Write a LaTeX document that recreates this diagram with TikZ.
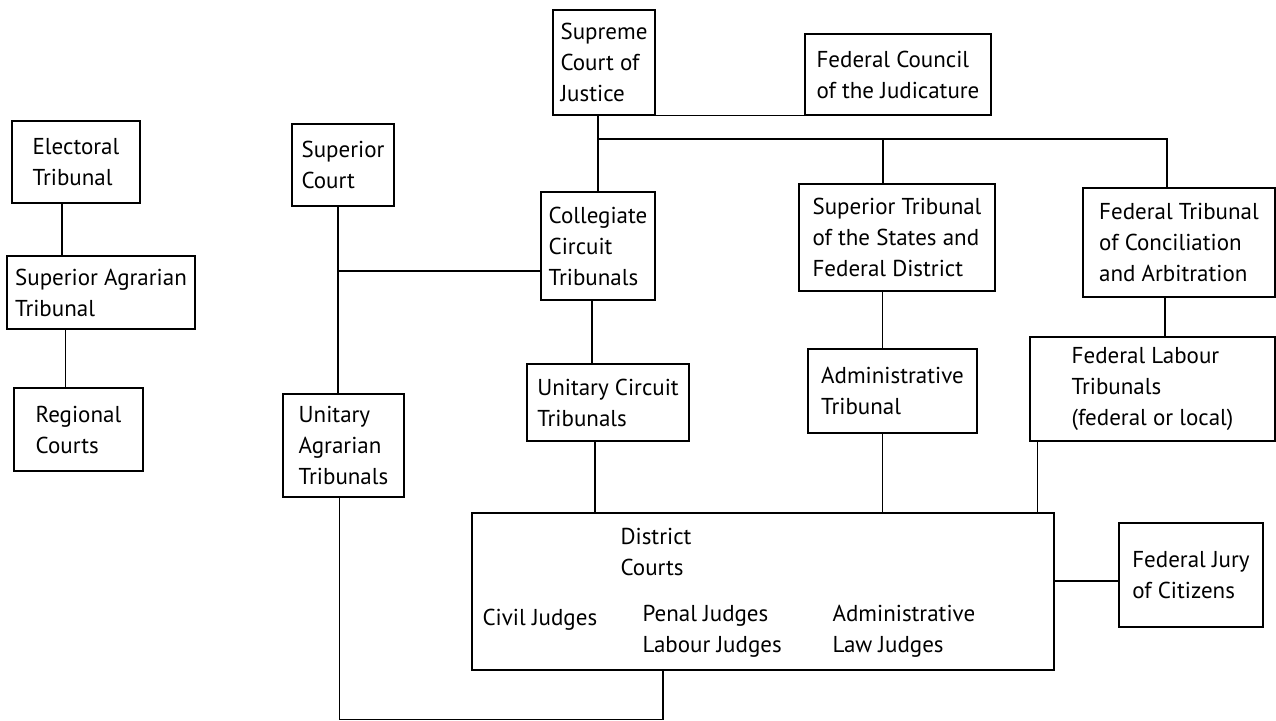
\documentclass[tikz,border=0pt]{standalone}
\usepackage{fontspec}
\setmainfont{PT Sans}
\begin{document}
\begin{tikzpicture}[x=0.5pt,y=-0.5pt,line width=0.6pt,
  court/.style={draw,rectangle,align=left,inner sep=2pt,font=\fontsize{11.5}{15.5}\selectfont},
  judges/.style={align=left,anchor=west,inner sep=0pt,font=\fontsize{11.5}{15.5}\selectfont}]
\useasboundingbox (0,0) rectangle (1276,720);

% Electoral branch
\node[court,minimum width=64pt,minimum height=41pt] (electoral) at (76,162) {Electoral\\Tribunal};
\node[court,minimum width=94pt,minimum height=36.5pt] (supagr) at (101,292.5) {Superior Agrarian\\Tribunal};
\node[court,minimum width=64.5pt,minimum height=41.5pt] (regional) at (78.5,429.5) {Regional\\Courts};

% Supreme court and council
\node[court,minimum width=51pt,minimum height=52.5pt] (supreme) at (604,62.5) {Supreme\\Court of\\Justice};
\node[court,minimum width=93pt,minimum height=40.5pt] (council) at (898,74.5) {Federal Council\\of the Judicature};

% Second level
\node[court,minimum width=51pt,minimum height=41pt] (supcourt) at (343,165) {Superior\\Court};
\node[court,minimum width=57pt,minimum height=54pt] (collegiate) at (598,246) {Collegiate\\Circuit\\Tribunals};
\node[court,minimum width=98pt,minimum height=53.5pt] (suptrib) at (897,237.5) {Superior Tribunal\\of the States and\\Federal District};
\node[court,minimum width=96pt,minimum height=54.5pt] (fedtrib) at (1179,242.5) {Federal Tribunal\\of Conciliation\\and Arbitration};

% Third level
\node[court,minimum width=60.5pt,minimum height=51.5pt] (unitagr) at (343.5,445.5) {Unitary\\Agrarian\\Tribunals};
\node[court,minimum width=81pt,minimum height=38.5pt] (unitcirc) at (608,402.5) {Unitary Circuit\\Tribunals};
\node[court,minimum width=84.5pt,minimum height=42pt] (admin) at (892.5,391) {Administrative\\Tribunal};
\node[court,minimum width=122.5pt,minimum height=52pt] (fedlab) at (1152.5,389) {Federal Labour\\Tribunals\\(federal or local)};

% District courts and jury
\node[court,minimum width=291pt,minimum height=78.5pt] (district) at (763,591.5) {};
\node[judges] (district name) at (620,552) {District\\Courts};
\node[judges] (civil) at (482,620) {Civil Judges};
\node[judges] (penal) at (642,631) {Penal Judges\\Labour Judges};
\node[judges] (adminlaw) at (832,631) {Administrative\\Law Judges};
\node[court,minimum width=72pt,minimum height=52pt] (jury) at (1191,575) {Federal Jury\\of Citizens};

% Connections
\draw ([xshift=-7pt]electoral.south) -- ([xshift=-7pt]electoral.south |- supagr.north);
\draw ([xshift=-6.5pt]regional.north) -- ([xshift=-6.5pt]regional.north |- supagr.south);
\draw (supreme.south east) -- (council.south west);
\draw (collegiate.north |- supreme.south) -- (collegiate.north);
\coordinate (top bus) at (598,139);
\draw (top bus) -| ([xshift=-6pt]fedtrib.north);
\draw ([xshift=-7pt]suptrib.north) -- ([xshift=-7pt]suptrib.north |- top bus);
\coordinate (court line) at ([xshift=-2.5pt]supcourt.south);
\draw (court line) -- (court line |- unitagr.north);
\draw ([yshift=-12.5pt]collegiate.west) -- ([yshift=-12.5pt]collegiate.west -| court line);
\draw ([xshift=-3pt]collegiate.south) -- ([xshift=-3pt]collegiate.south |- unitcirc.north);
\draw ([xshift=-6.5pt]unitcirc.south) -- ([xshift=-6.5pt]unitcirc.south |- district.north);
\draw ([xshift=-5pt]admin.north) -- ([xshift=-5pt]admin.north |- suptrib.south);
\draw ([xshift=-5pt]admin.south) -- ([xshift=-5pt]admin.south |- district.north);
\draw ([xshift=-7pt]fedtrib.south) -- ([xshift=-7pt]fedtrib.south |- fedlab.north);
\draw ([xshift=4pt]fedlab.south west) -- ([xshift=4pt]fedlab.south west |- district.north);
\draw ([yshift=5.25pt]district.east) -- ([yshift=5.25pt]district.east -| jury.west);
\draw ([xshift=-50pt]district.south) -- ++(0,49) -| ([xshift=-2pt]unitagr.south);
\end{tikzpicture}
\end{document}
